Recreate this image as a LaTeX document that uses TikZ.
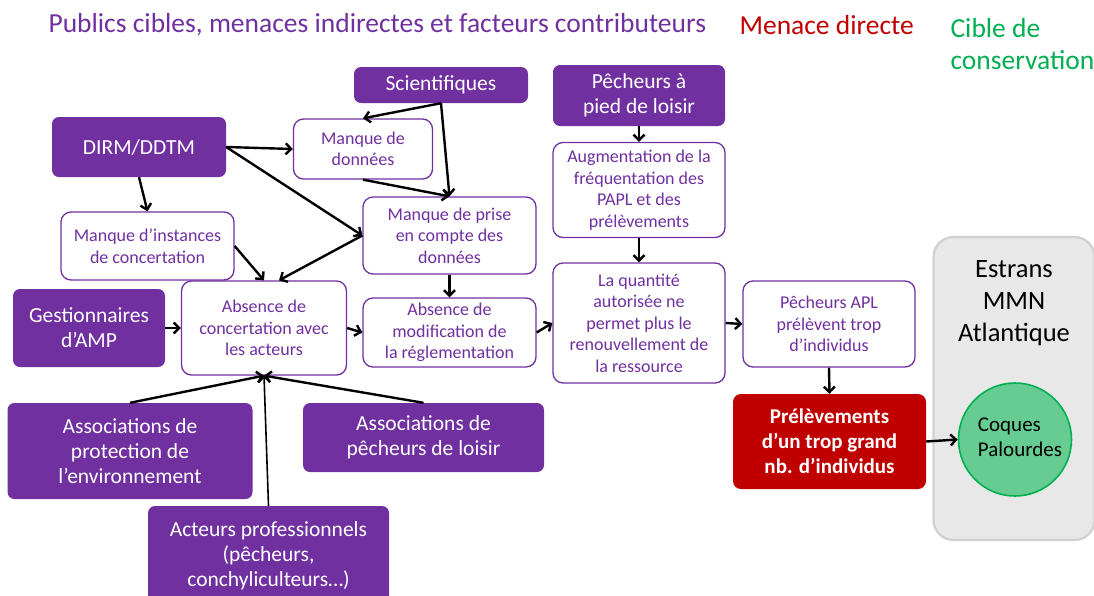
\documentclass[tikz,border=0pt]{standalone}
\usepackage{fontspec}
\setmainfont{Carlito}
\usepackage{xcolor}
\usepackage{tikz}
\usetikzlibrary{shapes,arrows.meta,positioning}
\definecolor{publicpurple}{RGB}{112,48,160}
\definecolor{threatred}{RGB}{192,0,0}
\definecolor{targetgreen}{RGB}{0,176,80}
\definecolor{shellgreen}{RGB}{102,204,146}
\definecolor{estrangray}{RGB}{232,232,232}
\definecolor{estranedge}{RGB}{208,208,208}

\begin{document}
\begin{tikzpicture}[
    x=1pt, y=-1pt,
    actor/.style={fill=publicpurple, text=white, rounded corners=7pt, align=center, inner sep=0pt, font=\fontsize{21.5}{25}\selectfont},
    factor/.style={draw=publicpurple, line width=1.3pt, fill=white, text=publicpurple, rounded corners=10pt, align=center, inner sep=0pt, font=\fontsize{18}{21.5}\selectfont},
    link/.style={draw, line width=2.4pt, -{Straight Barb[length=5.5pt,width=11pt]}}
]
\useasboundingbox (0,0) rectangle (1094,595);

% titles
\node[anchor=west, text=publicpurple, font=\fontsize{27.5}{32}\selectfont] (ttlpublic) at (45,25) {Publics cibles, menaces indirectes et facteurs contributeurs};
\node[anchor=west, text=threatred, font=\fontsize{27.5}{32}\selectfont] (ttlthreat) at (736,25) {Menace directe};
\node[anchor=west, text=targetgreen, align=left, font=\fontsize{27.5}{32}\selectfont] (ttltarget) at (947,44) {Cible de\\conservation};

% conservation target
\node[draw=estranedge, fill=estrangray, line width=2.2pt, rounded corners=20pt, minimum width=161pt, minimum height=303pt] (estran) at (1014,388.5) {};
\node[font=\fontsize{26.5}{32}\selectfont, align=center] (estrantext) at (1014,303) {Estrans\\MMN\\Atlantique};
\node[circle, draw=targetgreen, fill=shellgreen, line width=1.6pt, minimum size=113pt, inner sep=0pt] (shell) at (1015,439.5) {};
\node[align=left, inner sep=0pt, font=\fontsize{21}{25}\selectfont] (shelltext) at (1020,437) {Coques\\Palourdes};

% actors
\node[actor, minimum width=174pt, minimum height=36pt] (sci) at (441,85) {Scientifiques};
\node[actor, minimum width=174pt, minimum height=60pt] (dirm) at (139,147) {DIRM/DDTM};
\node[actor, minimum width=152pt, minimum height=78pt] (gest) at (89,328) {Gestionnaires\\d’AMP};
\node[actor, minimum width=172pt, minimum height=61pt] (pap) at (639,95.5) {Pêcheurs à\\pied de loisir};
\node[actor, minimum width=245pt, minimum height=96pt] (assocenv) at (130,451) {Associations de\\protection de\\l’environnement};
\node[actor, minimum width=241pt, minimum height=69pt] (assocpeche) at (423.5,437.5) {Associations de\\pêcheurs de loisir};
\node[actor, minimum width=241pt, minimum height=100pt, text depth=4pt] (pro) at (268.5,556) {Acteurs professionnels\\(pêcheurs,\\conchyliculteurs…)};

% contributing factors
\node[factor, minimum width=139pt, minimum height=60pt] (mdon) at (363,149) {Manque de\\données};
\node[factor, minimum width=173pt, minimum height=77pt] (mprise) at (449.5,235.5) {Manque de prise\\en compte des\\données};
\node[factor, minimum width=173pt, minimum height=68pt] (minst) at (147.5,246) {Manque d’instances\\de concertation};
\node[factor, minimum width=165pt, minimum height=94pt] (absconc) at (264,328) {Absence de\\concertation avec\\les acteurs};
\node[factor, minimum width=173pt, minimum height=69pt] (absmod) at (449.5,332.5) {Absence de\\modification de\\la réglementation};
\node[factor, minimum width=172pt, minimum height=95pt] (augm) at (639,190) {Augmentation de la\\fréquentation des\\PAPL et des\\prélèvements};
\node[factor, minimum width=172pt, minimum height=120pt] (quant) at (639,323) {La quantité\\autorisée ne\\permet plus le\\renouvellement de\\la ressource};
\node[factor, minimum width=172pt, minimum height=86pt] (apl) at (829,324) {Pêcheurs APL\\prélèvent trop\\d’individus};

% direct threat
\node[fill=threatred, text=white, rounded corners=8pt, align=center, inner sep=0pt, minimum width=193pt, minimum height=95pt, font=\fontsize{21}{25}\selectfont\bfseries] (prel) at (829.5,441.5) {Prélèvements\\d’un trop grand\\nb. d’individus};

% links
\draw[link] (sci.south) -- (mdon.north);
\draw[link] (sci.south) -- (mprise.north);
\draw[link] (mdon.south) -- (mprise.north);
\draw[link] (dirm.east) -- (mdon.west);
\draw[link] (dirm.east) -- (mprise.west);
\draw[link] (dirm.south) -- (minst.north);
\draw[link] (minst.east) -- (absconc.north);
\draw[link] (mprise.west) -- ([xshift=15pt]absconc.north);
\draw[link] (mprise.south) -- (absmod.north);
\draw[link] (gest.east) -- (absconc.west);
\draw[link] (absconc.east) -- (absmod.west);
\draw[link] (absmod.east) -- (quant.west);
\draw[link] (pap.south) -- (augm.north);
\draw[link] (augm.south) -- (quant.north);
\draw[link] (quant.east) -- (apl.west);
\draw[link] (apl.south) -- (prel.north);
\draw[link] (prel.east) -- (shell.west);
\draw[link] (assocenv.north) -- (absconc.south);
\draw[link] (assocpeche.north) -- (absconc.south);
\draw[link, line width=1.6pt] (pro.north) -- (absconc.south);

\end{tikzpicture}
\end{document}
